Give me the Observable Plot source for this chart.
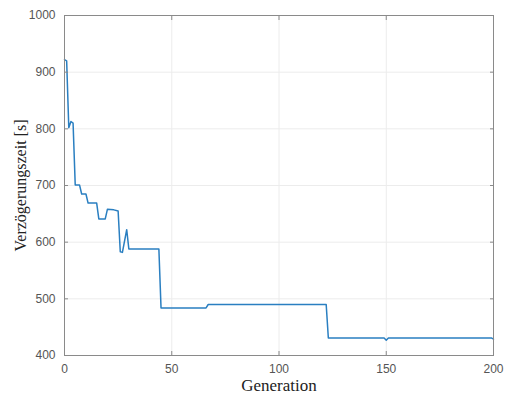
<!DOCTYPE html>
<html>
<head>
<meta charset="utf-8">
<script src="https://cdn.jsdelivr.net/npm/d3@7"></script>
<script src="https://cdn.jsdelivr.net/npm/@observablehq/plot@0.6"></script>
<style>
  html, body { margin: 0; padding: 0; background: #fff; }
</style>
</head>
<body>
<div id="chart"></div>
<script>
const generations = [0, 1, 2, 3, 4, 5, 7, 8, 10, 11, 15, 16, 19, 20, 23, 25, 26, 27, 29, 30, 44, 45, 66, 67, 122, 123, 149, 150, 151, 199, 200];
const delays      = [922, 920, 802, 813, 810, 701, 701, 685, 685, 669, 669, 641, 641, 658, 657, 655, 583, 582, 622, 588, 588, 484, 484, 490, 490, 431, 431, 427, 431, 431, 429];
const xTicks = [0, 50, 100, 150, 200];
const yTicks = [400, 500, 600, 700, 800, 900, 1000];

const data = generations.map((g, i) => ({gen: g, delay: delays[i]}));
const tickFont = "'Liberation Sans', Arial, sans-serif";
const labelFont = "'Liberation Serif', 'Times New Roman', serif";

const chart = Plot.plot({
  width: 505,
  height: 394,
  marginLeft: 64,
  marginRight: 12,
  marginTop: 15,
  marginBottom: 39,
  style: {background: "#fff", color: "#262626"},
  x: {domain: [0, 200]},
  y: {domain: [400, 1000]},
  marks: [
    Plot.gridX(xTicks.slice(1, -1), {stroke: "#ececec", strokeOpacity: 1}),
    Plot.gridY(yTicks.slice(1, -1), {stroke: "#ececec", strokeOpacity: 1}),
    Plot.line(data, {x: "gen", y: "delay", stroke: "#2a7fc1", strokeWidth: 1.5}),
    Plot.frame({stroke: "#8a8a8a", strokeWidth: 1}),
    Plot.axisX(xTicks, {anchor: "bottom", tickSize: -4, tickPadding: 13, tickFormat: d3.format("d"), stroke: "#8a8a8a", fontFamily: tickFont, fontSize: 12, fill: "#555", label: null}),
    Plot.axisX(xTicks, {anchor: "top", tickSize: -4, text: null, stroke: "#8a8a8a", label: null}),
    Plot.axisY(yTicks, {anchor: "left", tickSize: -4, tickPadding: 13, tickFormat: d3.format("d"), stroke: "#8a8a8a", fontFamily: tickFont, fontSize: 12, fill: "#555", label: null}),
    Plot.axisY(yTicks, {anchor: "right", tickSize: -4, text: null, stroke: "#8a8a8a", label: null}),
    Plot.axisX([], {anchor: "bottom", label: "Generation", labelAnchor: "center", labelArrow: "none", labelOffset: 35, fontFamily: labelFont, fontSize: 17, fill: "#222"}),
    Plot.axisY([], {anchor: "left", label: "Verzögerungszeit [s]", labelAnchor: "center", labelArrow: "none", labelOffset: 50, fontFamily: labelFont, fontSize: 16, fill: "#222"})
  ]
});
document.getElementById("chart").appendChild(chart);
</script>
</body>
</html>
